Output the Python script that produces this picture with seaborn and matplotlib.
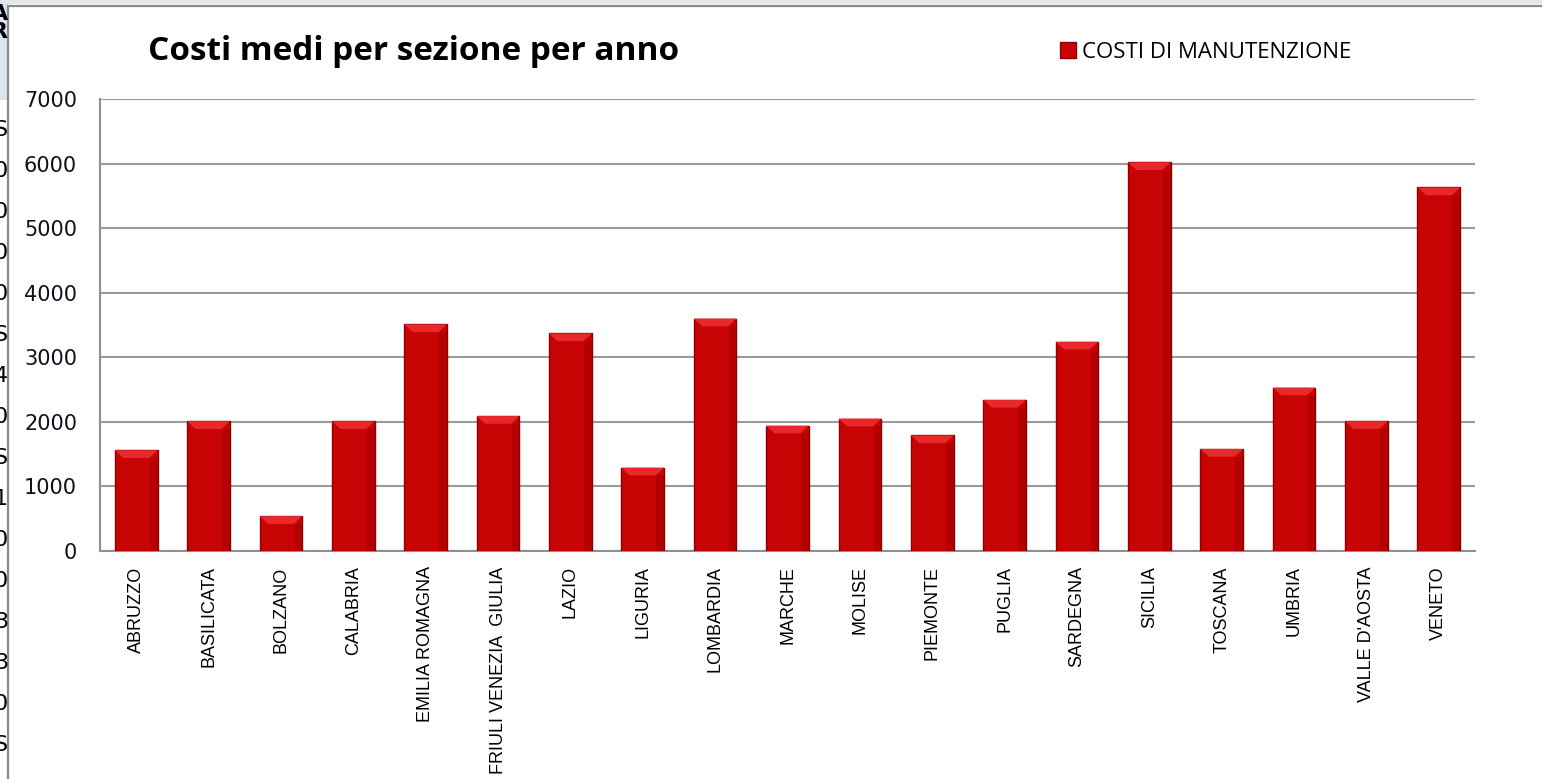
import matplotlib
matplotlib.use("Agg")
import matplotlib.pyplot as plt
from matplotlib.patches import Patch, Rectangle, Polygon
import seaborn as sns

# data
regions = ["ABRUZZO", "BASILICATA", "BOLZANO", "CALABRIA", "EMILIA ROMAGNA",
           "FRIULI VENEZIA  GIULIA", "LAZIO", "LIGURIA", "LOMBARDIA", "MARCHE",
           "MOLISE", "PIEMONTE", "PUGLIA", "SARDEGNA", "SICILIA", "TOSCANA",
           "UMBRIA", "VALLE D'AOSTA", "VENETO"]
costs = [1560, 2010, 540, 2010, 3510, 2090, 3370, 1290, 3600, 1940,
         2050, 1790, 2340, 3240, 6020, 1580, 2530, 2010, 5630]
y_ticks = [0, 1000, 2000, 3000, 4000, 5000, 6000, 7000]
title = "Costi medi per sezione per anno"
legend_label = "COSTI DI MANUTENZIONE"
# clipped spreadsheet column visible at the left edge
side_chars = ["S", "0", "0", "0", "0", "S", "4", "0", "S", "1", "0", "0", "3", "3", "0", "S"]

sns.set_style("white")
plt.rcParams['font.family'] = ['DejaVu Sans']

W, H = 1542, 779
fig = plt.figure(figsize=(W / 100, H / 100), dpi=100)

def fx(px):
    return px / W

def fy(py):
    return 1 - py / H

# screenshot surroundings (drawn behind the axes)
fig.patches.append(Rectangle((0, fy(4)), 1, 4 / H, transform=fig.transFigure,
                             facecolor="#e6e6e6", edgecolor="none", zorder=-3))
fig.patches.append(Rectangle((0, fy(100)), fx(8), 100 / H, transform=fig.transFigure,
                             facecolor="#dbe5f1", edgecolor="none", zorder=-3))
fig.patches.append(Rectangle((fx(8), -0.01), 1.0, fy(6) + 0.01, transform=fig.transFigure,
                             facecolor="white", edgecolor="#8a8a8a", lw=1.6, zorder=-2))
fig.text(fx(8), fy(14), "A", ha="right", va="center", fontsize=16, fontweight="bold", color="black")
fig.text(fx(8), fy(32), "R", ha="right", va="center", fontsize=16, fontweight="bold", color="black")
for i, ch in enumerate(side_chars):
    fig.text(fx(8), fy(130 + 41 * i), ch, ha="right", va="center", fontsize=16, color="black")

ax = fig.add_axes([fx(100), fy(551), fx(1475) - fx(100), (551 - 99) / H])
ax.set_facecolor("none")
ax.set_zorder(2)

sns.barplot(x=regions, y=costs, color="#c80303", width=0.59, saturation=1,
            edgecolor="#8e0000", linewidth=1.0, ax=ax, zorder=3)

# bevel on the top of each bar
bevel_h = 120
for p in list(ax.patches):
    x0, w, h = p.get_x(), p.get_width(), p.get_height()
    inset = w * 0.2
    ax.add_patch(Polygon([(x0, h), (x0 + w, h), (x0 + w - inset, h - bevel_h),
                          (x0 + inset, h - bevel_h)], closed=True,
                         facecolor="#e8282a", edgecolor="none", zorder=4))
    ax.add_patch(Rectangle((x0 + w * 0.82, 0), w * 0.18, h - bevel_h,
                           facecolor="#a50000", edgecolor="none", zorder=4, alpha=0.6))

ax.set_ylim(0, 7000)
ax.set_xlim(-0.5, len(regions) - 0.5)
ax.set_yticks(y_ticks)
ax.set_yticklabels([str(v) for v in y_ticks], fontsize=15, color="#10101c")
ax.yaxis.grid(True, color="#9a9a9a", lw=1.5, zorder=0)
ax.set_axisbelow(True)
ax.tick_params(axis="y", length=0, pad=16.5)
ax.tick_params(axis="x", length=0, pad=11)
for lab in ax.get_xticklabels():
    lab.set_rotation(90)
    lab.set_fontsize(13)
    lab.set_fontfamily("Liberation Sans")
    lab.set_color("black")
    lab.set_va("top")
    lab.set_ha("center")
ax.set_xlabel("")
ax.set_ylabel("")
for s in ["top", "right"]:
    ax.spines[s].set_visible(False)
for s in ["left", "bottom"]:
    ax.spines[s].set_color("#8f8f8f")
    ax.spines[s].set_linewidth(1.5)

fig.text(fx(148), fy(52), title, ha="left", va="center", fontsize=24,
         fontweight="bold", family="Open Sans", color="black")

leg = ax.legend(handles=[Patch(facecolor="#c80303", edgecolor="#8e0000", label=legend_label)],
                loc="center left", bbox_to_anchor=(fx(1040), fy(52)), bbox_transform=fig.transFigure,
                frameon=False, prop={"family": "Open Sans", "size": 16},
                handlelength=0.7, handleheight=0.7, handletextpad=0.3)
for t in leg.get_texts():
    t.set_color("black")

fig.savefig("out.png", dpi=100)
